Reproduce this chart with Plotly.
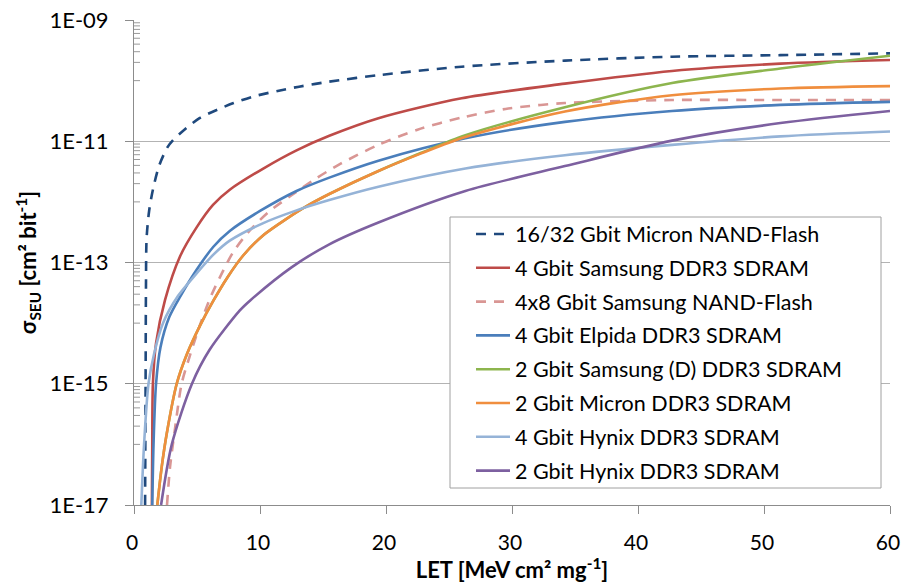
import math
import plotly.graph_objects as go

# LET in MeV cm^2/mg, cross-section as log10(sigma) in cm^2/bit
micron_nand_let = [0.88, 0.92, 0.95, 1.0, 1.2, 1.5, 2.0, 2.65, 3.1, 4.0, 5.2, 6.6, 7.9, 9.5, 11.4, 13.1, 15.4, 19.4, 26.0, 34.2, 42.7, 51.3, 60.0]
micron_nand_log = [-17.0, -15.0, -13.4, -12.6, -12.15, -11.8, -11.4, -11.1, -10.98, -10.81, -10.62, -10.48, -10.37, -10.26, -10.17, -10.10, -10.02, -9.91, -9.77, -9.67, -9.605, -9.58, -9.55]

samsung_ddr3_let = [1.42, 1.45, 1.5, 1.75, 2.46, 3.65, 4.97, 6.27, 7.6, 10.26, 12.9, 15.5, 19.4, 26.0, 34.2, 42.7, 51.3, 60.0]
samsung_ddr3_log = [-17.0, -16.0, -15.0, -14.33, -13.62, -12.90, -12.42, -12.05, -11.80, -11.45, -11.15, -10.91, -10.62, -10.29, -10.05, -9.84, -9.72, -9.66]

samsung_nand_let = [2.62, 2.86, 3.25, 3.78, 4.4, 5.2, 6.1, 7.04, 7.9, 9.07, 10.66, 12.5, 14.4, 16.4, 19.4, 22.5, 26.0, 29.7, 34.2, 42.7, 51.3, 60.0]
samsung_nand_log = [-17.0, -16.37, -15.75, -15.0, -14.56, -14.05, -13.56, -13.15, -12.82, -12.50, -12.17, -11.89, -11.62, -11.37, -11.06, -10.81, -10.61, -10.46, -10.37, -10.32, -10.32, -10.32]

elpida_let = [1.45, 1.55, 1.75, 2.1, 2.8, 3.7, 4.97, 6.3, 7.6, 10.0, 12.9, 15.5, 19.4, 26.3, 34.2, 42.7, 51.3, 60.0]
elpida_log = [-17.0, -16.0, -15.0, -14.4, -13.9, -13.55, -13.12, -12.74, -12.48, -12.15, -11.82, -11.60, -11.32, -10.95, -10.68, -10.50, -10.40, -10.35]

samsung_d_let = [1.85, 2.2, 2.6, 3.39, 4.18, 5.24, 6.3, 7.4, 8.68, 10.26, 12.1, 13.7, 15.5, 19.4, 22.8, 26.3, 34.2, 42.7, 51.3, 60.0]
samsung_d_log = [-17.0, -16.37, -15.82, -15.0, -14.52, -14.04, -13.63, -13.25, -12.88, -12.55, -12.28, -12.07, -11.87, -11.49, -11.19, -10.90, -10.44, -10.04, -9.80, -9.59]

micron_ddr3_let = [1.85, 2.2, 2.6, 3.39, 4.18, 5.24, 6.3, 7.4, 8.68, 10.26, 12.1, 13.7, 15.5, 19.4, 22.8, 26.3, 34.2, 42.7, 51.3, 60.0]
micron_ddr3_log = [-17.0, -16.37, -15.82, -15.0, -14.52, -14.04, -13.63, -13.25, -12.88, -12.55, -12.28, -12.07, -11.87, -11.49, -11.20, -10.93, -10.51, -10.24, -10.13, -10.09]

hynix_4g_let = [0.58, 0.8, 1.15, 1.6, 2.3, 3.5, 4.97, 6.3, 7.6, 10.26, 12.9, 15.5, 19.4, 26.3, 34.2, 42.7, 51.3, 60.0]
hynix_4g_log = [-17.0, -16.0, -15.0, -14.5, -14.0, -13.55, -13.18, -12.87, -12.64, -12.35, -12.14, -11.97, -11.75, -11.45, -11.23, -11.06, -10.92, -10.84]

hynix_2g_let = [2.15, 3.0, 4.6, 6.0, 8.4, 9.2, 12.5, 15.5, 19.4, 26.3, 34.2, 42.7, 51.3, 60.0]
hynix_2g_log = [-17.0, -16.0, -15.0, -14.44, -13.79, -13.63, -13.08, -12.70, -12.34, -11.82, -11.41, -10.99, -10.70, -10.50]

series = [
    ("16/32 Gbit Micron NAND-Flash", micron_nand_let, micron_nand_log, "#1F497D", "dash"),
    ("4 Gbit Samsung DDR3 SDRAM", samsung_ddr3_let, samsung_ddr3_log, "#BE4B48", "solid"),
    ("4x8 Gbit Samsung NAND-Flash", samsung_nand_let, samsung_nand_log, "#D99694", "dash"),
    ("4 Gbit Elpida DDR3 SDRAM", elpida_let, elpida_log, "#4A7EBB", "solid"),
    ("2 Gbit Samsung (D) DDR3 SDRAM", samsung_d_let, samsung_d_log, "#8DB54E", "solid"),
    ("2 Gbit Micron DDR3 SDRAM", micron_ddr3_let, micron_ddr3_log, "#F08E3E", "solid"),
    ("4 Gbit Hynix DDR3 SDRAM", hynix_4g_let, hynix_4g_log, "#95B3D7", "solid"),
    ("2 Gbit Hynix DDR3 SDRAM", hynix_2g_let, hynix_2g_log, "#7D60A0", "solid"),
]

y_major = [1e-17, 1e-15, 1e-13, 1e-11, 1e-9]
y_major_text = ["1E-17", "1E-15", "1E-13", "1E-11", "1E-09"]
x_ticks = [0, 10, 20, 30, 40, 50, 60]
y_log_range = [-17, -9]

# minor ticks every tenth of each two-decade major step
y_minor = []
for e in (-16, -14, -12, -10):
    for k in range(1, 10):
        y_minor.append(k * 10.0 ** e)

FONT = "Lato, 'Open Sans', sans-serif"
AXIS_GREY = "#8c8c8c"
DASH = "10px,8px"

# plot area in page pixels: left 134, right 890, top 20, bottom 505
PLOT_L, PLOT_R, PLOT_T, PLOT_B = 134, 890, 20, 505
PLOT_W, PLOT_H = PLOT_R - PLOT_L, PLOT_B - PLOT_T


def px_to_paper_x(px):
    return (px - PLOT_L) / PLOT_W


def px_to_paper_y(py):
    return (PLOT_B - py) / PLOT_H


fig = go.Figure()
for name, xs, ls, color, dash in series:
    fig.add_trace(go.Scatter(
        x=xs, y=[10.0 ** v for v in ls], name=name, mode="lines", showlegend=False,
        line=dict(color=color, width=2.6, dash=DASH if dash == "dash" else "solid",
                  shape="spline", smoothing=0.8),
    ))

# short inward minor ticks on the value axis
span = y_log_range[1] - y_log_range[0]
for v in y_minor:
    yp = (math.log10(v) - y_log_range[0]) / span
    fig.add_shape(type="line", xref="paper", yref="paper",
                  x0=0, x1=6 / PLOT_W, y0=yp, y1=yp,
                  line=dict(color="#9a9a9a", width=1), layer="above")

# legend: framed box with a line key and label per series
fig.add_shape(type="rect", xref="paper", yref="paper",
              x0=px_to_paper_x(450), x1=px_to_paper_x(881),
              y0=px_to_paper_y(488), y1=px_to_paper_y(217),
              line=dict(color="#a0a0a0", width=1), fillcolor="white", layer="above")
for i, (name, _, _, color, dash) in enumerate(series):
    yp = px_to_paper_y(234 + i * 33.8)
    fig.add_shape(type="line", xref="paper", yref="paper",
                  x0=px_to_paper_x(476), x1=px_to_paper_x(510), y0=yp, y1=yp,
                  line=dict(color=color, width=2.6, dash=DASH if dash == "dash" else "solid"),
                  layer="above")
    fig.add_annotation(xref="paper", yref="paper", x=px_to_paper_x(513), y=yp,
                       xanchor="left", yanchor="middle", showarrow=False, text=name,
                       font=dict(family=FONT, size=21.5, color="black"))

fig.update_layout(
    width=901, height=588,
    margin=dict(l=PLOT_L, r=901 - PLOT_R, t=PLOT_T, b=588 - PLOT_B),
    paper_bgcolor="white", plot_bgcolor="white",
    font=dict(family=FONT, size=22, color="black"),
    showlegend=False,
)

fig.update_xaxes(
    range=[0, 60], tickvals=x_ticks, showgrid=False, automargin=False,
    showline=True, linecolor=AXIS_GREY, linewidth=1,
    ticks="outside", ticklen=8, tickcolor=AXIS_GREY,
    ticklabelstandoff=11, ticklabeloverflow="allow", ticklabelshift=-2,
    tickfont=dict(family=FONT, size=21),
    zeroline=False,
    title=dict(text="<b>LET [MeV cm² mg<sup>-1</sup>]</b>", font=dict(family=FONT, size=22), standoff=6),
)

fig.update_yaxes(
    type="log", range=y_log_range, automargin=False,
    tickvals=y_major, ticktext=y_major_text,
    showgrid=True, gridcolor="#b3b3b3", gridwidth=1.3,
    showline=True, linecolor=AXIS_GREY, linewidth=1,
    ticks="outside", ticklen=8, tickcolor=AXIS_GREY,
    ticklabelstandoff=12,
    tickfont=dict(family=FONT, size=22),
    title=dict(text="<b>σ<sub>SEU</sub> [cm² bit<sup>-1</sup>]</b>", font=dict(family=FONT, size=22), standoff=6),
)

fig.write_html("out.html")
